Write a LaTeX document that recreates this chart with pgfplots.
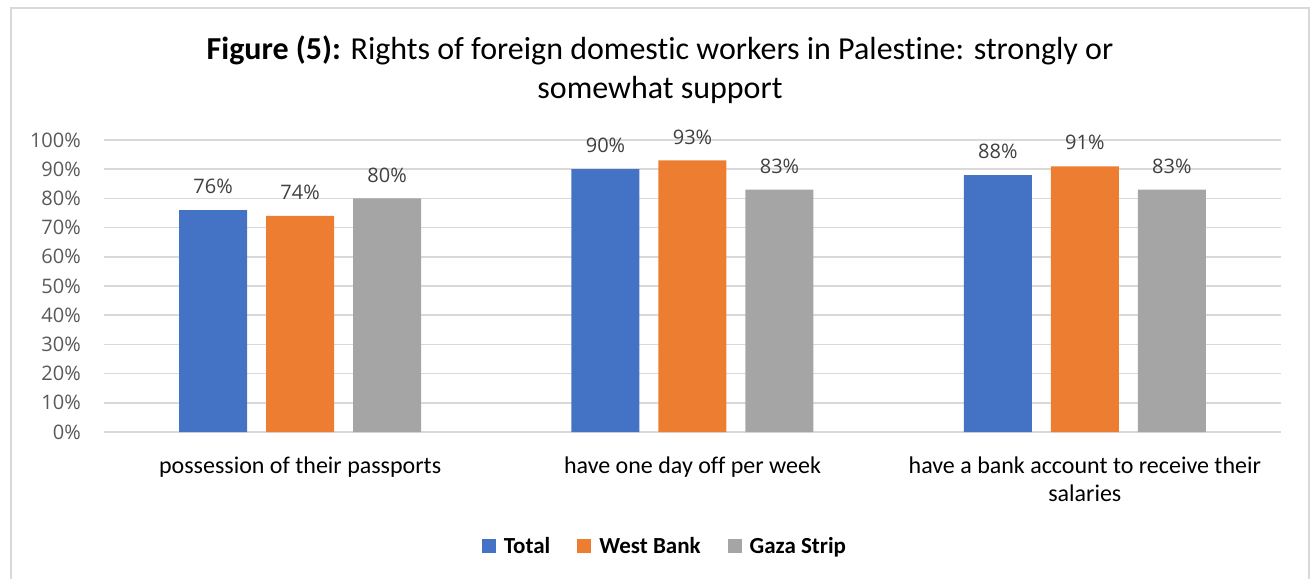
\documentclass[border=0pt]{standalone}
\usepackage{fontspec}
\setmainfont{Carlito}[Ligatures=NoCommon]
\newfontfamily\numfont{Open Sans}
\usepackage{pgfplots}
\pgfplotsset{compat=1.18}

\definecolor{cTotal}{HTML}{4472C4}
\definecolor{cWest}{HTML}{ED7D31}
\definecolor{cGaza}{HTML}{A5A5A5}
\definecolor{gridgray}{HTML}{D9D9D9}
\definecolor{labelgray}{HTML}{595959}
\definecolor{valgray}{HTML}{404040}

\begin{document}
\begin{tikzpicture}
\path[use as bounding box] (0pt,0pt) rectangle (1311pt,579pt);
\draw[gridgray, line width=2pt] (11pt,0pt) -- (11pt,571pt) -- (1309pt,571pt) -- (1309pt,0pt);
\node[align=center, font=\fontsize{32}{39}\selectfont] at (660pt,509pt)
  {\textbf{Figure (5):} Rights of foreign domestic workers in Palestine: strongly or\\somewhat support};
\begin{axis}[
    at={(104pt,147pt)}, anchor=south west,
    scale only axis, width=1177pt, height=292pt,
    ybar=19pt, bar width=68pt,
    xmin=-0.5, xmax=2.5, ymin=0, ymax=100,
    xtick={0,1,2},
    xticklabels={possession of their passports, have one day off per week, {have a bank account to receive their\\salaries}},
    xticklabel style={align=center, font=\fontsize{24}{28}\selectfont, text=black, anchor=north, inner sep=0pt, yshift=-25pt},
    ytick={0,10,...,100},
    yticklabel={\pgfmathprintnumber{\tick}\%},
    yticklabel style={font=\numfont\fontsize{20}{24}\selectfont, text=labelgray, anchor=east, inner sep=0pt, xshift=-23pt},
    /pgf/number format/assume math mode=true,
    major tick length=0pt,
    axis line style={draw=none},
    ymajorgrids, major grid style={gridgray, line width=1.5pt},
    clip=false,
    nodes near coords={\pgfmathprintnumber{\pgfplotspointmeta}\%},
    nodes near coords style={font=\numfont\fontsize{20}{24}\selectfont, text=valgray, anchor=south, inner sep=0pt, yshift=16pt},
    legend style={at={(0.4766,-0.390)}, anchor=center, legend columns=-1, draw=none,
      font=\bfseries\fontsize{23}{26}\selectfont,
      /tikz/every odd column/.append style={column sep=6pt},
      /tikz/every even column/.append style={column sep=25pt}},
    legend image code/.code={\fill[#1] (0pt,-7pt) rectangle (14pt,7pt);},
]
\addplot[fill=cTotal, draw=none] coordinates {(0,76) (1,90) (2,88)};
\addlegendentry{Total}
\addplot[fill=cWest, draw=none] coordinates {(0,74) (1,93) (2,91)};
\addlegendentry{West Bank}
\addplot[fill=cGaza, draw=none] coordinates {(0,80) (1,83) (2,83)};
\addlegendentry{Gaza Strip}
\end{axis}
\end{tikzpicture}
\end{document}
